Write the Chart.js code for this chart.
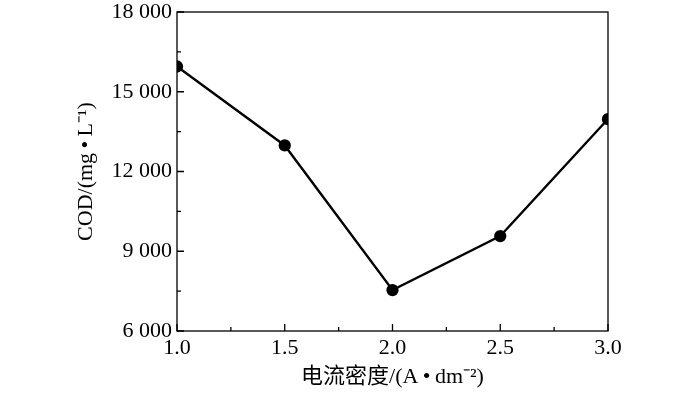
<!DOCTYPE html>
<html>
<head>
<meta charset="utf-8">
<script src="https://cdn.jsdelivr.net/npm/chart.js@4/dist/chart.umd.min.js"></script>
<style>
  html, body { margin: 0; padding: 0; background: #fff; }
  #wrap { width: 700px; height: 393px; }
</style>
</head>
<body>
<div id="wrap"><canvas id="chart_cod"></canvas></div>
<script>
// current density (A/dm2) and COD (mg/L)
var currentDensity = [1.0, 1.5, 2.0, 2.5, 3.0];
var codValues = [15950, 12980, 7540, 9570, 13970];

var xMajorTicks = [1.0, 1.5, 2.0, 2.5, 3.0];
var xMinorTicks = [1.25, 1.75, 2.25, 2.75];
var yMajorTicks = [6000, 9000, 12000, 15000, 18000];
var yMinorTicks = [7500, 10500, 13500, 16500];

var serif = '"Liberation Serif", "Times New Roman", "Noto Sans CJK SC", serif';

function groupThousands(v) {
    return String(v).replace(/\B(?=(\d{3})+(?!\d))/g, ' ');
}

var chart_cod = new Chart(document.getElementById('chart_cod'), {
    type: 'line',
    data: {
        datasets: [{
            label: 'COD',
            data: currentDensity.map(function (x, i) { return { x: x, y: codValues[i] }; }),
            borderColor: '#000',
            backgroundColor: '#000',
            borderWidth: 2.3,
            pointRadius: 5,
            pointBackgroundColor: '#000',
            pointBorderColor: '#000',
            tension: 0
        }]
    },
    options: {
        animation: false,
        responsive: true,
        maintainAspectRatio: false,
        layout: { padding: { left: 0, right: 92, top: 12, bottom: 0 } },
        plugins: {
            legend: { display: false },
            tooltip: { enabled: false }
        },
        scales: {
            x: {
                type: 'linear',
                min: 1.0,
                max: 3.0,
                grid: { display: false, drawTicks: false },
                border: { display: false },
                afterFit: function (scale) {
                    scale.height = 62;
                    scale.paddingLeft = 0;
                    scale.paddingRight = 0;
                },
                afterBuildTicks: function (scale) {
                    scale.ticks = xMajorTicks.map(function (v) { return { value: v }; });
                },
                ticks: {
                    padding: 4,
                    color: '#000',
                    maxRotation: 0,
                    font: { family: serif, size: 22 },
                    callback: function (value) { return Number(value).toFixed(1); }
                },
                title: {
                    display: true,
                    text: '电流密度/(A\u2009•\u2009dm⁻²)',
                    color: '#000',
                    font: { family: serif, size: 22 },
                    padding: { top: 0, bottom: 3 }
                }
            },
            y: {
                type: 'linear',
                min: 6000,
                max: 18000,
                grid: { display: false, drawTicks: false },
                border: { display: false },
                afterFit: function (scale) {
                    scale.width = 177;
                    scale.paddingTop = 0;
                    scale.paddingBottom = 0;
                },
                afterBuildTicks: function (scale) {
                    scale.ticks = yMajorTicks.map(function (v) { return { value: v }; });
                },
                ticks: {
                    padding: 5,
                    color: '#000',
                    font: { family: serif, size: 22 },
                    callback: function (value) { return groupThousands(value); }
                },
                title: {
                    display: true,
                    text: 'COD/(mg\u2009•\u2009L⁻¹)',
                    color: '#000',
                    font: { family: serif, size: 22 },
                    padding: { top: 73, bottom: 0 }
                }
            }
        }
    },
    plugins: [{
        id: 'frameAndInwardTicks',
        beforeDatasetsDraw: function (chart) {
            var ctx = chart.ctx;
            var a = chart.chartArea;
            var xs = chart.scales.x;
            var ys = chart.scales.y;
            ctx.save();
            ctx.strokeStyle = '#000';
            ctx.lineWidth = 1.3;
            ctx.strokeRect(a.left, a.top, a.right - a.left, a.bottom - a.top);
            ctx.beginPath();
            xMajorTicks.forEach(function (v) {
                var px = xs.getPixelForValue(v);
                ctx.moveTo(px, a.bottom); ctx.lineTo(px, a.bottom - 7);
            });
            xMinorTicks.forEach(function (v) {
                var px = xs.getPixelForValue(v);
                ctx.moveTo(px, a.bottom); ctx.lineTo(px, a.bottom - 4);
            });
            yMajorTicks.forEach(function (v) {
                var py = ys.getPixelForValue(v);
                ctx.moveTo(a.left, py); ctx.lineTo(a.left + 7, py);
            });
            yMinorTicks.forEach(function (v) {
                var py = ys.getPixelForValue(v);
                ctx.moveTo(a.left, py); ctx.lineTo(a.left + 4, py);
            });
            ctx.stroke();
            ctx.restore();
        }
    }, {
        id: 'whiteBackground',
        beforeDraw: function (chart) {
            var ctx = chart.canvas.getContext('2d');
            ctx.save();
            ctx.globalCompositeOperation = 'destination-over';
            ctx.fillStyle = 'white';
            ctx.fillRect(0, 0, chart.canvas.width, chart.canvas.height);
            ctx.restore();
        }
    }]
});
</script>
</body>
</html>
